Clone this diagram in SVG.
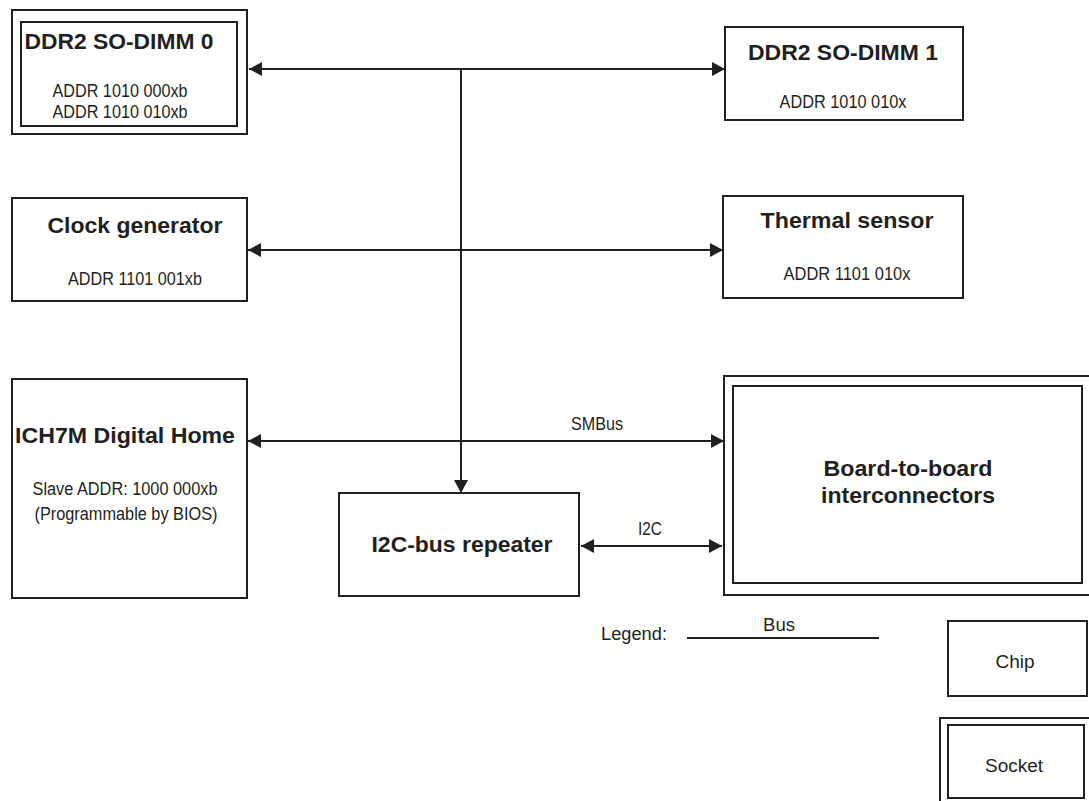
<svg xmlns="http://www.w3.org/2000/svg" width="1089" height="801" viewBox="0 0 1089 801">
<style>
.box{fill:#fff;stroke:#231f20;stroke-width:2}
.ln{fill:none;stroke:#231f20;stroke-width:2}
.t{font-family:"Liberation Sans",Arial,sans-serif;font-weight:bold;font-size:22.5px;fill:#231f20;text-anchor:middle}
.s{font-family:"Liberation Sans",Arial,sans-serif;font-size:17.5px;fill:#231f20;text-anchor:middle}
</style>
<defs>
<marker id="ah" markerUnits="userSpaceOnUse" markerWidth="14" markerHeight="14" refX="13" refY="7" orient="auto-start-reverse" viewBox="0 0 14 14">
<path d="M0,0 L13,7 L0,14 z" fill="#231f20"/>
</marker>
</defs>
<rect width="1089" height="801" fill="#fff"/>
<g id="connectors">
<line class="ln" x1="249" y1="69" x2="725" y2="69" marker-start="url(#ah)" marker-end="url(#ah)"/>
<line class="ln" x1="461" y1="69" x2="461" y2="493" marker-end="url(#ah)"/>
<line class="ln" x1="248" y1="250" x2="723" y2="250" marker-start="url(#ah)" marker-end="url(#ah)"/>
<line class="ln" x1="248" y1="441" x2="724" y2="441" marker-start="url(#ah)" marker-end="url(#ah)"/>
<text class="s" x="597" y="430" textLength="52" lengthAdjust="spacingAndGlyphs">SMBus</text>
<line class="ln" x1="581" y1="546" x2="722" y2="546" marker-start="url(#ah)" marker-end="url(#ah)"/>
<text class="s" x="650" y="535" textLength="24" lengthAdjust="spacingAndGlyphs">I2C</text>
</g>
<g id="dimm0">
<rect class="box" x="12" y="10" width="235" height="124"/>
<rect class="box" x="21" y="22" width="216" height="104"/>
<text class="t" x="119" y="49" textLength="189" lengthAdjust="spacingAndGlyphs">DDR2 SO-DIMM 0</text>
<text class="s" x="120" y="97" textLength="135" lengthAdjust="spacingAndGlyphs">ADDR 1010 000xb</text>
<text class="s" x="120" y="118" textLength="135" lengthAdjust="spacingAndGlyphs">ADDR 1010 010xb</text>
</g>
<g id="dimm1">
<rect class="box" x="725" y="27" width="238" height="93"/>
<text class="t" x="843" y="60" textLength="190" lengthAdjust="spacingAndGlyphs">DDR2 SO-DIMM 1</text>
<text class="s" x="843" y="108" textLength="127" lengthAdjust="spacingAndGlyphs">ADDR 1010 010x</text>
</g>
<g id="clock">
<rect class="box" x="12" y="198" width="235" height="103"/>
<text class="t" x="135" y="233" textLength="175" lengthAdjust="spacingAndGlyphs">Clock generator</text>
<text class="s" x="135" y="285" textLength="134" lengthAdjust="spacingAndGlyphs">ADDR 1101 001xb</text>
</g>
<g id="thermal">
<rect class="box" x="723" y="196" width="240" height="102"/>
<text class="t" x="847" y="228" textLength="173" lengthAdjust="spacingAndGlyphs">Thermal sensor</text>
<text class="s" x="847" y="280" textLength="127" lengthAdjust="spacingAndGlyphs">ADDR 1101 010x</text>
</g>
<g id="ich7m">
<rect class="box" x="12" y="379" width="235" height="219"/>
<text class="t" x="125" y="443" textLength="220" lengthAdjust="spacingAndGlyphs">ICH7M Digital Home</text>
<text class="s" x="125" y="495" textLength="185" lengthAdjust="spacingAndGlyphs">Slave ADDR: 1000 000xb</text>
<text class="s" x="126" y="520" textLength="183" lengthAdjust="spacingAndGlyphs">(Programmable by BIOS)</text>
</g>
<g id="repeater">
<rect class="box" x="339" y="493" width="240" height="103"/>
<text class="t" x="462" y="552" textLength="181" lengthAdjust="spacingAndGlyphs">I2C-bus repeater</text>
</g>
<g id="board">
<rect class="box" x="724" y="376" width="370" height="219"/>
<rect class="box" x="733" y="386" width="349" height="197"/>
<text class="t" x="908" y="476" textLength="169" lengthAdjust="spacingAndGlyphs">Board-to-board</text>
<text class="t" x="908" y="503" textLength="174" lengthAdjust="spacingAndGlyphs">interconnectors</text>
</g>
<g id="legend">
<text class="s" x="634" y="640" textLength="66" lengthAdjust="spacingAndGlyphs">Legend:</text>
<line class="ln" x1="687" y1="638" x2="879" y2="638"/>
<text class="s" x="779" y="631" textLength="32" lengthAdjust="spacingAndGlyphs">Bus</text>
</g>
<g id="legend-chip">
<rect class="box" x="948" y="621" width="139" height="75"/>
<text class="s" x="1015" y="668" textLength="39" lengthAdjust="spacingAndGlyphs">Chip</text>
</g>
<g id="legend-socket">
<rect class="box" x="940" y="718" width="160" height="100"/>
<rect class="box" x="948" y="725" width="136" height="73"/>
<text class="s" x="1014" y="772" textLength="58" lengthAdjust="spacingAndGlyphs">Socket</text>
</g>
</svg>
